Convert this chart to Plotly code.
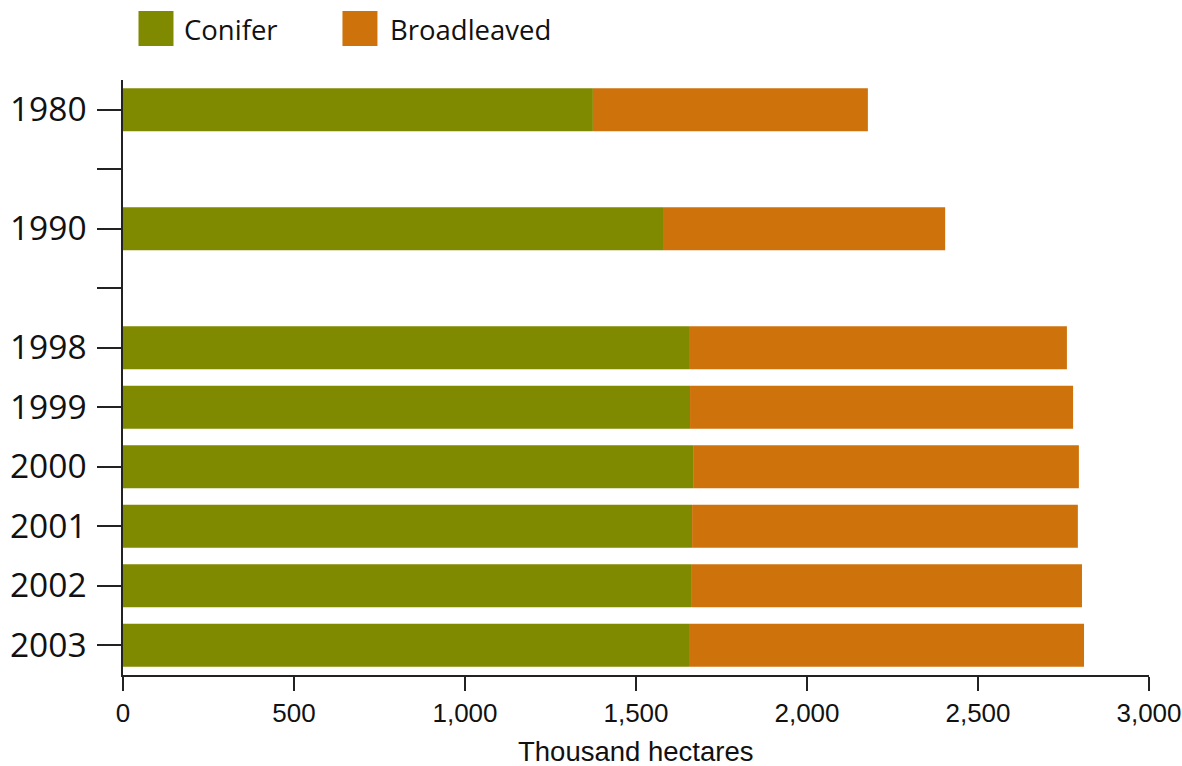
import plotly.graph_objects as go

# Forest area by species group, thousand hectares
years = ["1980", "1990", "1998", "1999", "2000", "2001", "2002", "2003"]
conifer = [1374, 1579, 1655, 1658, 1667, 1664, 1661, 1655]
total = [2178, 2404, 2760, 2778, 2795, 2792, 2804, 2810]
broadleaved = [t - c for t, c in zip(total, conifer)]

# Row slots on the category axis; empty slots mark the gaps between surveys
slots = ["1980", "", "1990", "", "1998", "1999", "2000", "2001", "2002", "2003"]
x_ticks = [0, 500, 1000, 1500, 2000, 2500, 3000]
x_tick_text = ["0", "500", "1,000", "1,500", "2,000", "2,500", "3,000"]
x_title = "Thousand hectares"

CONIFER_COLOR = "#808A00"
BROAD_COLOR = "#CE720B"
FONT = "Open Sans"
AXIS_FONT = "Liberation Sans"

W, H = 1182, 766
ML, MR, MT, MB = 122.5, 33.3, 80, 91
PW, PH = W - ML - MR, H - MT - MB

ypos = [slots.index(y) for y in years]

fig = go.Figure()
fig.add_trace(go.Bar(
    y=ypos, x=conifer, orientation="h", name="Conifer",
    marker=dict(color=CONIFER_COLOR, line=dict(width=0)),
    width=0.72, showlegend=False,
))
fig.add_trace(go.Bar(
    y=ypos, x=broadleaved, base=conifer, orientation="h", name="Broadleaved",
    marker=dict(color=BROAD_COLOR, line=dict(width=0)),
    width=0.72, showlegend=False,
))


def px_x(px):
    return (px - ML) / PW


def px_y(py):
    return (H - MB - py) / PH


# Hand-drawn legend: large colour swatches with labels
shapes = []
annotations = []
for x0, label, color, tx in [(138, "Conifer", CONIFER_COLOR, 182),
                             (342, "Broadleaved", BROAD_COLOR, 388)]:
    shapes.append(dict(type="rect", xref="paper", yref="paper",
                       x0=px_x(x0), x1=px_x(x0 + 35), y0=px_y(46), y1=px_y(11),
                       fillcolor=color, line=dict(width=0)))
    annotations.append(dict(xref="paper", yref="paper", x=px_x(tx), y=px_y(29),
                            text=label, showarrow=False, xanchor="left",
                            yanchor="middle",
                            font=dict(family=FONT, size=27.5, color="#111")))

# x-axis title placed below the tick labels
annotations.append(dict(xref="paper", yref="paper", x=px_x(635), y=px_y(751),
                        text=x_title, showarrow=False, xanchor="center",
                        yanchor="middle",
                        font=dict(family=AXIS_FONT, size=27.5, color="#111")))

fig.update_layout(
    width=W, height=H,
    margin=dict(l=ML, r=MR, t=MT, b=MB, pad=0, autoexpand=False),
    barmode="overlay",
    plot_bgcolor="white", paper_bgcolor="white",
    shapes=shapes, annotations=annotations,
    font=dict(family=FONT, color="#111"),
)
fig.update_xaxes(
    range=[0, 3000], tickvals=x_ticks, ticktext=x_tick_text,
    showgrid=False, zeroline=False, automargin=False,
    showline=True, linecolor="#222", linewidth=1.5,
    ticks="outside", ticklen=14, tickwidth=1.5, tickcolor="#222",
    tickfont=dict(family=AXIS_FONT, size=26, color="#111"),
    ticklabelstandoff=0, ticklabeloverflow="allow",
)
fig.update_yaxes(
    range=[len(slots) - 0.5, -0.5],
    tickvals=list(range(len(slots))), ticktext=slots,
    showgrid=False, zeroline=False, automargin=False,
    showline=True, linecolor="#222", linewidth=1.5,
    ticks="outside", ticklen=24, tickwidth=1.5, tickcolor="#222",
    tickfont=dict(family=FONT, size=33.5, color="#111"),
    ticklabelstandoff=4, ticklabeloverflow="allow",
)

fig.write_html("out.html")
